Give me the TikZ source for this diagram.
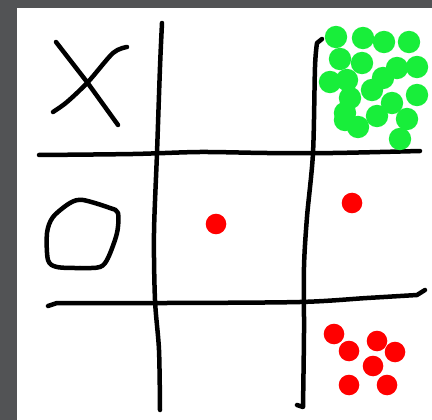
\documentclass[tikz,border=0pt]{standalone}
\usepackage{tikz}
\usetikzlibrary{calc}
\definecolor{framegray}{HTML}{525355}
\definecolor{inkblack}{HTML}{000000}
\definecolor{dotred}{HTML}{FF0000}
\definecolor{dotgreen}{HTML}{18EE3A}
\tikzset{
  pen/.style      = {draw=inkblack, line width=4.5pt, line cap=round, line join=round},
  reddot/.style   = {fill=dotred},
  greendot/.style = {fill=dotgreen},
}

\begin{document}
\begin{tikzpicture}[x=1pt, y=-1pt]
  \useasboundingbox (0,0) rectangle (432,420);
  % frame and page
  \fill[framegray] (0,0) rectangle (432,420);
  \fill[white] (17,8) rectangle (432,420);
  % grid
  \draw[pen] plot[smooth, tension=0.5] coordinates {(162,23) (160,67) (157,153) (154,233) (155,300) (159,350) (160,410)};
  \draw[pen] (322,39) -- (317,43) plot[smooth, tension=0.5] coordinates {(317,43) (315,67) (313,153) (307,217) (304,267) (304,333) (303,407)} -- (297,405);
  \draw[pen] plot[smooth, tension=0.5] coordinates {(39,155) (133,154) (200,152) (267,153) (333,153) (420,151)};
  \draw[pen] (48,306) -- (57,303) plot[smooth, tension=0.5] coordinates {(57,303) (167,303) (300,302) (367,298) (417,295)} -- (425,290);
  % X
  \draw[pen] (56,42) -- (87,82) -- (118,125);
  \draw[pen] plot[smooth, tension=0.5] coordinates {(53,112) (67,102) (88,82) (113,53) (127,47)};
  % O
  \draw[pen] plot[smooth cycle, tension=0.5] coordinates {(83,200) (110,208) (118,213) (117,233) (108,258) (100,267) (80,268) (57,267) (48,260) (47,233) (53,217) (70,203)};
  % red dots
  \foreach \x/\y in {216/224, 352/203, 334/334, 349/351, 377/341, 395/352, 373/366, 349/385, 387/385}{
    \fill[reddot] (\x,\y) circle (10.3);
  }
  % green dots
  \foreach \x/\y in {336/37, 363/38, 384/42, 409/42, 340/59, 362/63, 330/82, 347/80, 350/98, 372/90,
                     383/78, 397/68, 417/67, 392/103, 417/95, 377/116, 345/120, 358/127, 407/119, 400/139, 345/113}{
    \fill[greendot] (\x,\y) circle (11.2);
  }
\end{tikzpicture}
\end{document}
